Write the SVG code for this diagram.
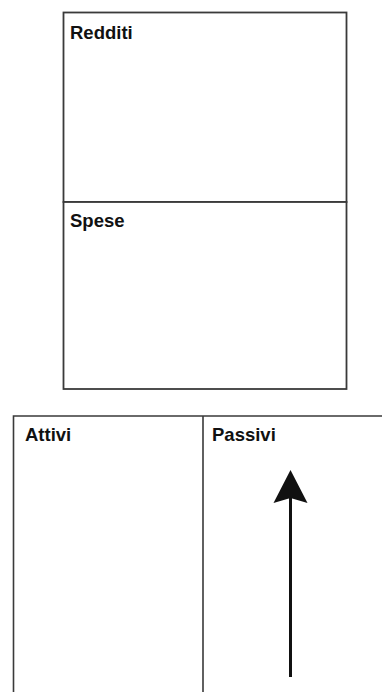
<svg xmlns="http://www.w3.org/2000/svg" width="382" height="692" viewBox="0 0 382 692">
<style>
.box{fill:#fff;stroke:#3a3a3a;stroke-width:1.8}
.ln{stroke:#3a3a3a;stroke-width:1.6;fill:none}
.lbl{font-family:"Liberation Sans",Arial,sans-serif;font-weight:bold;font-size:18.5px;fill:#111}
</style>
<rect width="382" height="692" fill="#fff"/>
<g id="redditi">
<rect class="box" x="63.5" y="12.5" width="283" height="189.5"/>
<text class="lbl" x="70" y="38.5">Redditi</text>
</g>
<g id="spese">
<rect class="box" x="63.5" y="202" width="283" height="187"/>
<text class="lbl" x="70" y="226.5">Spese</text>
</g>
<g id="attivi">
<path class="ln" d="M13.5,700 V416 H203"/>
<text class="lbl" x="25" y="441">Attivi</text>
</g>
<g id="passivi">
<path class="ln" d="M203,416 V700 M203,416 H390"/>
<text class="lbl" x="212" y="441">Passivi</text>
</g>
<g id="connectors">
<line x1="290.5" y1="677" x2="290.5" y2="495" stroke="#111" stroke-width="3"/>
<path d="M290.5,470 L307.5,503 L290.5,498 L273.5,503 Z" fill="#111"/>
</g>
</svg>
